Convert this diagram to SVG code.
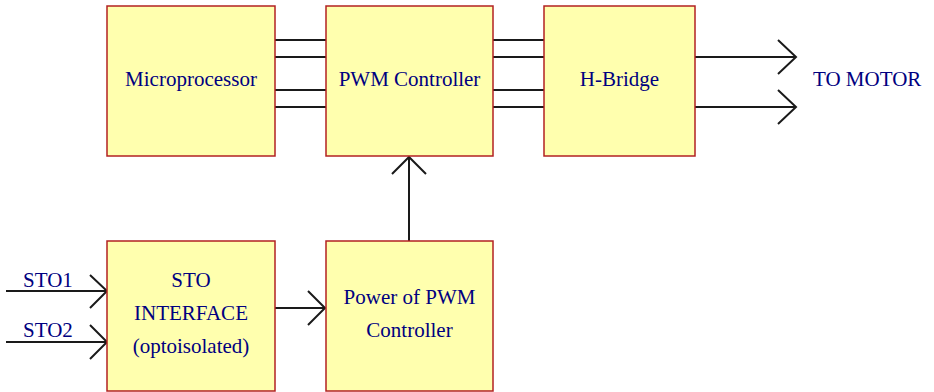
<svg xmlns="http://www.w3.org/2000/svg" width="934" height="392" viewBox="0 0 934 392">
<style>
.box{fill:#ffffae;stroke:#b22222;stroke-width:1.5}
.t{font-family:"Liberation Serif","Times New Roman",serif;font-size:21px;fill:#000080;text-anchor:middle}
.tl{font-family:"Liberation Serif","Times New Roman",serif;font-size:21px;fill:#000080}
.ln{stroke:#1a1a1a;stroke-width:2;fill:none}
</style>
<rect width="934" height="392" fill="#fff"/>
<g id="connectors">
<path class="ln" d="M275 40H326M275 57H326M275 90H326M275 107H326"/>
<path class="ln" d="M493 40H544M493 57H544M493 90H544M493 107H544"/>
<path class="ln" d="M695 57H796M778 40L796 57L778 74"/>
<path class="ln" d="M695 107H796M778 90L796 107L778 124"/>
<path class="ln" d="M6 291H107M90 275L107 291L90 308"/>
<path class="ln" d="M6 342H107M90 325L107 342L90 359"/>
<path class="ln" d="M275 308H325M308 291L325 308L308 325"/>
<path class="ln" d="M409 241V157M392 174L409 157L426 174"/>
</g>
<g id="microprocessor"><rect class="box" x="107" y="6" width="168" height="150"/><text class="t" x="191" y="86">Microprocessor</text></g>
<g id="pwm"><rect class="box" x="326" y="6" width="167" height="150"/><text class="t" x="409.5" y="86">PWM Controller</text></g>
<g id="hbridge"><rect class="box" x="544" y="6" width="151" height="150"/><text class="t" x="619.5" y="86">H-Bridge</text></g>
<g id="motor"><text class="tl" x="813" y="86">TO MOTOR</text></g>
<g id="sto"><rect class="box" x="107" y="241" width="168" height="150"/><text class="t" x="191" y="287">STO</text><text class="t" x="191" y="320">INTERFACE</text><text class="t" x="191" y="353">(optoisolated)</text></g>
<g id="power"><rect class="box" x="326" y="241" width="167" height="150"/><text class="t" x="409.5" y="304">Power of PWM</text><text class="t" x="409.5" y="337">Controller</text></g>
<g id="sto1"><text class="tl" x="23" y="287">STO1</text></g>
<g id="sto2"><text class="tl" x="23" y="337">STO2</text></g>
</svg>
